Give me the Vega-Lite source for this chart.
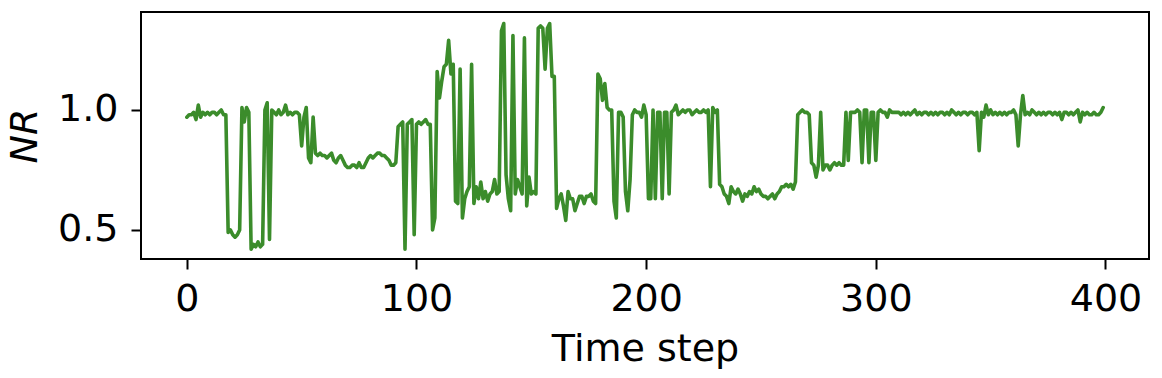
{
"$schema": "https://vega.github.io/schema/vega-lite/v6.json",
"autosize": "none",
"padding": {"left": 141, "top": 12, "right": 13, "bottom": 119},
"width": 1008,
"height": 247,
"background": "white",
"config": {"view": {"stroke": "black", "strokeWidth": 2}, "font": "DejaVu Sans"},
"data": {"values": [
{"t":0,"v":0.97},{"t":1,"v":0.98},{"t":2,"v":0.98},{"t":3,"v":0.99},{"t":4,"v":0.96},{"t":5,"v":1.02},{"t":6,"v":0.97},{"t":7,"v":0.99},{"t":8,"v":0.98},{"t":9,"v":0.99},
{"t":10,"v":0.98},{"t":11,"v":0.99},{"t":12,"v":0.99},{"t":13,"v":0.98},{"t":14,"v":0.99},{"t":15,"v":1.00},{"t":16,"v":0.98},{"t":17,"v":0.98},{"t":18,"v":0.49},{"t":19,"v":0.50},
{"t":20,"v":0.48},{"t":21,"v":0.47},{"t":22,"v":0.48},{"t":23,"v":0.50},{"t":24,"v":1.01},{"t":25,"v":0.95},{"t":26,"v":1.01},{"t":27,"v":0.99},{"t":28,"v":0.42},{"t":29,"v":0.44},
{"t":30,"v":0.43},{"t":31,"v":0.45},{"t":32,"v":0.43},{"t":33,"v":0.44},{"t":34,"v":1.00},{"t":35,"v":1.03},{"t":36,"v":0.46},{"t":37,"v":1.00},{"t":38,"v":0.99},{"t":39,"v":0.98},
{"t":40,"v":1.00},{"t":41,"v":0.98},{"t":42,"v":0.99},{"t":43,"v":1.02},{"t":44,"v":0.98},{"t":45,"v":0.99},{"t":46,"v":0.98},{"t":47,"v":0.99},{"t":48,"v":0.99},{"t":49,"v":0.98},
{"t":50,"v":0.85},{"t":51,"v":0.97},{"t":52,"v":1.01},{"t":53,"v":0.80},{"t":54,"v":0.78},{"t":55,"v":0.97},{"t":56,"v":0.82},{"t":57,"v":0.81},{"t":58,"v":0.82},{"t":59,"v":0.81},
{"t":60,"v":0.81},{"t":61,"v":0.80},{"t":62,"v":0.81},{"t":63,"v":0.82},{"t":64,"v":0.79},{"t":65,"v":0.78},{"t":66,"v":0.80},{"t":67,"v":0.81},{"t":68,"v":0.79},{"t":69,"v":0.77},
{"t":70,"v":0.76},{"t":71,"v":0.76},{"t":72,"v":0.77},{"t":73,"v":0.77},{"t":74,"v":0.76},{"t":75,"v":0.78},{"t":76,"v":0.76},{"t":77,"v":0.76},{"t":78,"v":0.78},{"t":79,"v":0.80},
{"t":80,"v":0.81},{"t":81,"v":0.80},{"t":82,"v":0.81},{"t":83,"v":0.82},{"t":84,"v":0.82},{"t":85,"v":0.81},{"t":86,"v":0.81},{"t":87,"v":0.80},{"t":88,"v":0.79},{"t":89,"v":0.77},
{"t":90,"v":0.77},{"t":91,"v":0.78},{"t":92,"v":0.93},{"t":93,"v":0.94},{"t":94,"v":0.95},{"t":95,"v":0.42},{"t":96,"v":0.94},{"t":97,"v":0.95},{"t":98,"v":0.96},{"t":99,"v":0.48},
{"t":100,"v":0.94},{"t":101,"v":0.95},{"t":102,"v":0.94},{"t":103,"v":0.95},{"t":104,"v":0.96},{"t":105,"v":0.94},{"t":106,"v":0.94},{"t":107,"v":0.50},{"t":108,"v":0.55},{"t":109,"v":1.16},
{"t":110,"v":1.05},{"t":111,"v":1.12},{"t":112,"v":1.18},{"t":113,"v":1.19},{"t":114,"v":1.29},{"t":115,"v":1.15},{"t":116,"v":1.19},{"t":117,"v":0.62},{"t":118,"v":0.61},{"t":119,"v":1.17},
{"t":120,"v":0.55},{"t":121,"v":0.63},{"t":122,"v":0.66},{"t":123,"v":0.68},{"t":124,"v":1.19},{"t":125,"v":0.61},{"t":126,"v":0.68},{"t":127,"v":0.63},{"t":128,"v":0.70},{"t":129,"v":0.63},
{"t":130,"v":0.66},{"t":131,"v":0.62},{"t":132,"v":0.65},{"t":133,"v":0.66},{"t":134,"v":0.71},{"t":135,"v":0.65},{"t":136,"v":0.66},{"t":137,"v":1.33},{"t":138,"v":1.36},{"t":139,"v":0.73},
{"t":140,"v":0.63},{"t":141,"v":0.58},{"t":142,"v":1.31},{"t":143,"v":0.65},{"t":144,"v":0.71},{"t":145,"v":0.68},{"t":146,"v":0.65},{"t":147,"v":1.30},{"t":148,"v":0.60},{"t":149,"v":0.72},
{"t":150,"v":0.65},{"t":151,"v":0.66},{"t":152,"v":0.65},{"t":153,"v":1.34},{"t":154,"v":1.35},{"t":155,"v":1.34},{"t":156,"v":1.17},{"t":157,"v":1.34},{"t":158,"v":1.36},{"t":159,"v":1.14},
{"t":160,"v":1.14},{"t":161,"v":0.59},{"t":162,"v":0.63},{"t":163,"v":0.65},{"t":164,"v":0.60},{"t":165,"v":0.54},{"t":166,"v":0.66},{"t":167,"v":0.63},{"t":168,"v":0.63},{"t":169,"v":0.58},
{"t":170,"v":0.61},{"t":171,"v":0.64},{"t":172,"v":0.64},{"t":173,"v":0.61},{"t":174,"v":0.64},{"t":175,"v":0.64},{"t":176,"v":0.65},{"t":177,"v":0.62},{"t":178,"v":0.61},{"t":179,"v":1.15},
{"t":180,"v":1.13},{"t":181,"v":1.04},{"t":182,"v":1.11},{"t":183,"v":1.01},{"t":184,"v":1.00},{"t":185,"v":1.00},{"t":186,"v":0.62},{"t":187,"v":0.55},{"t":188,"v":0.99},{"t":189,"v":0.99},
{"t":190,"v":0.97},{"t":191,"v":0.66},{"t":192,"v":0.58},{"t":193,"v":0.71},{"t":194,"v":0.98},{"t":195,"v":1.00},{"t":196,"v":0.99},{"t":197,"v":0.99},{"t":198,"v":0.97},{"t":199,"v":1.02},
{"t":200,"v":0.98},{"t":201,"v":0.63},{"t":202,"v":0.63},{"t":203,"v":1.00},{"t":204,"v":0.63},{"t":205,"v":0.99},{"t":206,"v":0.99},{"t":207,"v":0.63},{"t":208,"v":0.99},{"t":209,"v":0.99},
{"t":210,"v":0.65},{"t":211,"v":0.99},{"t":212,"v":1.00},{"t":213,"v":1.02},{"t":214,"v":0.98},{"t":215,"v":0.99},{"t":216,"v":1.00},{"t":217,"v":0.99},{"t":218,"v":1.00},{"t":219,"v":1.00},
{"t":220,"v":0.98},{"t":221,"v":0.99},{"t":222,"v":1.00},{"t":223,"v":0.99},{"t":224,"v":0.99},{"t":225,"v":1.00},{"t":226,"v":0.99},{"t":227,"v":1.00},{"t":228,"v":0.68},{"t":229,"v":1.01},
{"t":230,"v":0.99},{"t":231,"v":1.00},{"t":232,"v":0.69},{"t":233,"v":0.68},{"t":234,"v":0.65},{"t":235,"v":0.64},{"t":236,"v":0.61},{"t":237,"v":0.68},{"t":238,"v":0.66},{"t":239,"v":0.65},
{"t":240,"v":0.67},{"t":241,"v":0.65},{"t":242,"v":0.62},{"t":243,"v":0.65},{"t":244,"v":0.64},{"t":245,"v":0.66},{"t":246,"v":0.65},{"t":247,"v":0.68},{"t":248,"v":0.66},{"t":249,"v":0.67},
{"t":250,"v":0.65},{"t":251,"v":0.64},{"t":252,"v":0.64},{"t":253,"v":0.63},{"t":254,"v":0.64},{"t":255,"v":0.65},{"t":256,"v":0.63},{"t":257,"v":0.65},{"t":258,"v":0.66},{"t":259,"v":0.68},
{"t":260,"v":0.68},{"t":261,"v":0.69},{"t":262,"v":0.68},{"t":263,"v":0.69},{"t":264,"v":0.67},{"t":265,"v":0.70},{"t":266,"v":0.98},{"t":267,"v":0.99},{"t":268,"v":1.00},{"t":269,"v":0.99},
{"t":270,"v":0.99},{"t":271,"v":0.98},{"t":272,"v":0.78},{"t":273,"v":0.77},{"t":274,"v":0.72},{"t":275,"v":0.77},{"t":276,"v":0.99},{"t":277,"v":0.75},{"t":278,"v":0.77},{"t":279,"v":0.77},
{"t":280,"v":0.75},{"t":281,"v":0.77},{"t":282,"v":0.78},{"t":283,"v":0.77},{"t":284,"v":0.78},{"t":285,"v":0.77},{"t":286,"v":0.77},{"t":287,"v":0.99},{"t":288,"v":0.79},{"t":289,"v":0.99},
{"t":290,"v":0.99},{"t":291,"v":0.99},{"t":292,"v":1.00},{"t":293,"v":0.99},{"t":294,"v":0.78},{"t":295,"v":1.00},{"t":296,"v":1.00},{"t":297,"v":0.78},{"t":298,"v":0.99},{"t":299,"v":0.99},
{"t":300,"v":0.79},{"t":301,"v":0.99},{"t":302,"v":1.00},{"t":303,"v":0.99},{"t":304,"v":0.99},{"t":305,"v":0.97},{"t":306,"v":1.00},{"t":307,"v":0.99},{"t":308,"v":0.99},{"t":309,"v":0.99},
{"t":310,"v":0.99},{"t":311,"v":0.98},{"t":312,"v":0.99},{"t":313,"v":0.98},{"t":314,"v":0.99},{"t":315,"v":0.98},{"t":316,"v":0.99},{"t":317,"v":1.00},{"t":318,"v":0.98},{"t":319,"v":0.99},
{"t":320,"v":0.98},{"t":321,"v":0.99},{"t":322,"v":0.99},{"t":323,"v":0.98},{"t":324,"v":0.99},{"t":325,"v":0.98},{"t":326,"v":0.99},{"t":327,"v":0.98},{"t":328,"v":0.99},{"t":329,"v":0.99},
{"t":330,"v":0.98},{"t":331,"v":0.99},{"t":332,"v":0.98},{"t":333,"v":1.00},{"t":334,"v":0.99},{"t":335,"v":0.98},{"t":336,"v":0.99},{"t":337,"v":0.98},{"t":338,"v":0.99},{"t":339,"v":0.99},
{"t":340,"v":0.98},{"t":341,"v":0.99},{"t":342,"v":0.99},{"t":343,"v":0.98},{"t":344,"v":0.99},{"t":345,"v":0.83},{"t":346,"v":0.99},{"t":347,"v":0.97},{"t":348,"v":1.02},{"t":349,"v":0.98},
{"t":350,"v":1.00},{"t":351,"v":0.98},{"t":352,"v":0.99},{"t":353,"v":0.98},{"t":354,"v":0.99},{"t":355,"v":0.98},{"t":356,"v":0.99},{"t":357,"v":0.98},{"t":358,"v":0.99},{"t":359,"v":0.99},
{"t":360,"v":1.00},{"t":361,"v":0.98},{"t":362,"v":0.85},{"t":363,"v":0.98},{"t":364,"v":1.06},{"t":365,"v":0.98},{"t":366,"v":0.99},{"t":367,"v":0.98},{"t":368,"v":1.00},{"t":369,"v":0.99},
{"t":370,"v":0.98},{"t":371,"v":0.99},{"t":372,"v":0.98},{"t":373,"v":0.99},{"t":374,"v":0.98},{"t":375,"v":0.99},{"t":376,"v":0.99},{"t":377,"v":0.98},{"t":378,"v":0.99},{"t":379,"v":0.98},
{"t":380,"v":0.99},{"t":381,"v":0.96},{"t":382,"v":0.99},{"t":383,"v":0.99},{"t":384,"v":0.98},{"t":385,"v":0.99},{"t":386,"v":0.98},{"t":387,"v":0.99},{"t":388,"v":1.00},{"t":389,"v":0.95},
{"t":390,"v":0.99},{"t":391,"v":0.98},{"t":392,"v":0.99},{"t":393,"v":0.98},{"t":394,"v":0.98},{"t":395,"v":0.99},{"t":396,"v":0.98},{"t":397,"v":0.98},{"t":398,"v":0.99},{"t":399,"v":1.01}
]},
"mark": {"type": "line", "color": "#3b8c2b", "strokeWidth": 3.6, "strokeJoin": "round", "strokeCap": "round"},
"encoding": {
"x": {"field": "t", "type": "quantitative",
"scale": {"domain": [-19.95, 418.95], "nice": false, "zero": false},
"axis": {"values": [0, 100, 200, 300, 400], "title": "Time step", "grid": false, "domain": false,
"tickColor": "black", "tickWidth": 2, "tickSize": 10, "labelPadding": 11,
"labelFont": "DejaVu Sans", "labelFontSize": 38, "labelColor": "black",
"titleFont": "DejaVu Sans", "titleFontSize": 38, "titleFontWeight": "normal", "titleColor": "black",
"titleX": 504, "titleY": 101, "titleAlign": "center", "titleBaseline": "alphabetic"}},
"y": {"field": "v", "type": "quantitative",
"scale": {"domain": [0.379, 1.408], "nice": false, "zero": false},
"axis": {"values": [0.5, 1.0], "format": ".1f", "title": "NR", "grid": false, "domain": false,
"tickColor": "black", "tickWidth": 2, "tickSize": 10, "labelPadding": 13,
"labelFont": "DejaVu Sans", "labelFontSize": 38, "labelColor": "black",
"titleFont": "DejaVu Sans", "titleFontSize": 38, "titleFontWeight": "normal", "titleFontStyle": "italic", "titleColor": "black",
"titleAngle": 270, "titleX": -116, "titleY": 123.5, "titleAlign": "center", "titleBaseline": "middle"}}
}
}
